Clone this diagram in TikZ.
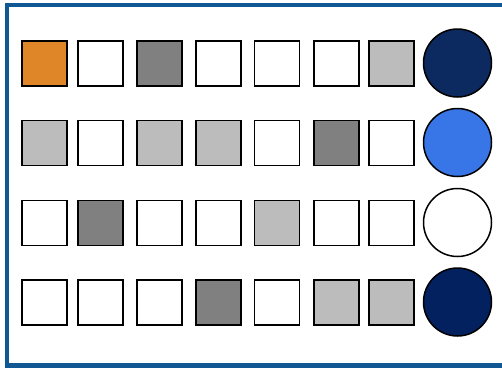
\documentclass[tikz,border=0pt]{standalone}
\begin{document}
\begin{tikzpicture}[x=1pt,y=-1pt,
  cell/.style={draw=black,line width=1.9pt,minimum size=45pt,inner sep=0pt,outer sep=0pt},
  disc/.style={circle,draw=black,line width=1.5pt,minimum size=68pt,inner sep=0pt},
  frameline/.style={draw=frameblue,line width=4.2pt}]
\definecolor{frameblue}{HTML}{0F5894}
\definecolor{orng}{HTML}{DE8628}
\definecolor{dgray}{HTML}{808080}
\definecolor{lgray}{HTML}{BCBCBC}
\definecolor{cA}{HTML}{0C2A5F}
\definecolor{cB}{HTML}{3876E8}
\definecolor{cD}{HTML}{03205F}
\useasboundingbox (0,0) rectangle (502,370);
\fill[white] (0,0) rectangle (502,370);
\draw[frameline] (510,5) -- (7,5) -- (7,365.5) -- (510,365.5);
% columns x centres
\def\xa{44.5}\def\xb{100.5}\def\xc{159.5}\def\xd{218.5}\def\xe{277}\def\xf{336.5}\def\xg{391.5}
% row 1
\node[cell,fill=orng]  (r1c1) at (\xa,63.5) {};
\node[cell,fill=white] (r1c2) at (\xb,63.5) {};
\node[cell,fill=dgray] (r1c3) at (\xc,63.5) {};
\node[cell,fill=white] (r1c4) at (\xd,63.5) {};
\node[cell,fill=white] (r1c5) at (\xe,63.5) {};
\node[cell,fill=white] (r1c6) at (\xf,63.5) {};
\node[cell,fill=lgray] (r1c7) at (\xg,63.5) {};
\node[disc,fill=cA]    (r1d)  at (457.5,63) {};
% row 2
\node[cell,fill=lgray] (r2c1) at (\xa,143) {};
\node[cell,fill=white] (r2c2) at (\xb,143) {};
\node[cell,fill=lgray] (r2c3) at (\xc,143) {};
\node[cell,fill=lgray] (r2c4) at (\xd,143) {};
\node[cell,fill=white] (r2c5) at (\xe,143) {};
\node[cell,fill=dgray] (r2c6) at (\xf,143) {};
\node[cell,fill=white] (r2c7) at (\xg,143) {};
\node[disc,fill=cB]    (r2d)  at (457.5,142.5) {};
% row 3
\node[cell,fill=white] (r3c1) at (\xa,223) {};
\node[cell,fill=dgray] (r3c2) at (\xb,223) {};
\node[cell,fill=white] (r3c3) at (\xc,223) {};
\node[cell,fill=white] (r3c4) at (\xd,223) {};
\node[cell,fill=lgray] (r3c5) at (\xe,223) {};
\node[cell,fill=white] (r3c6) at (\xf,223) {};
\node[cell,fill=white] (r3c7) at (\xg,223) {};
\node[disc,fill=white] (r3d)  at (457.5,222.5) {};
% row 4
\node[cell,fill=white] (r4c1) at (\xa,302.5) {};
\node[cell,fill=white] (r4c2) at (\xb,302.5) {};
\node[cell,fill=white] (r4c3) at (\xc,302.5) {};
\node[cell,fill=dgray] (r4c4) at (\xd,302.5) {};
\node[cell,fill=white] (r4c5) at (\xe,302.5) {};
\node[cell,fill=lgray] (r4c6) at (\xf,302.5) {};
\node[cell,fill=lgray] (r4c7) at (\xg,302.5) {};
\node[disc,fill=cD]    (r4d)  at (457.5,302) {};
\end{tikzpicture}
\end{document}
